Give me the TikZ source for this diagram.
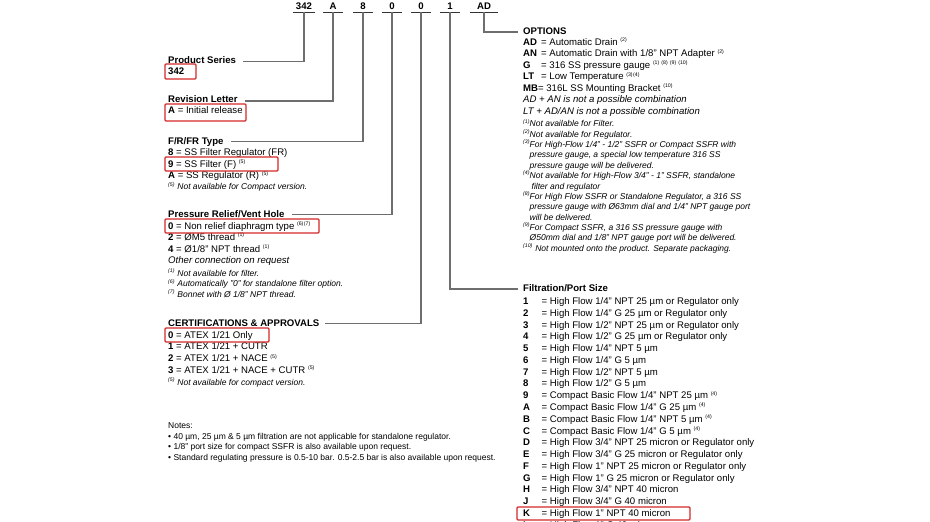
\documentclass[tikz,border=0pt]{standalone}
\usepackage{fontspec}
\setmainfont{Liberation Sans}
\usetikzlibrary{calc}
\definecolor{connc}{RGB}{110,110,110}
\definecolor{hlred}{RGB}{212,40,40}
\newcommand\mainsz{\fontsize{9.6bp}{11.5bp}\selectfont}
\newcommand\fnsz{\fontsize{8.5bp}{10.3bp}\selectfont}
\newcommand\supm[1]{\textsuperscript{\fontsize{5.2bp}{6bp}\selectfont(#1)}}
\newcommand\fnmk[1]{\makebox[6.5bp][l]{\supm{#1}}}
\newcommand\optc[1]{\makebox[18bp][l]{\textbf{#1}}}
\begin{document}
\begin{tikzpicture}[x=1bp,y=-1bp,
  txt/.style={anchor=base west, inner sep=0pt, font=\mainsz},
  head/.style={txt, font=\mainsz\bfseries},
  fn/.style={txt, font=\fnsz\itshape},
  note/.style={txt, font=\fnsz},
  code/.style={anchor=base, inner sep=0pt, minimum width=20bp, font=\mainsz\bfseries},
  conn/.style={draw=connc, line width=1.1bp},
  uline/.style={draw=black!80, line width=0.9bp},
  hl/.style={draw=hlred, line width=1.2bp, rounded corners=1bp}]
\useasboundingbox (0,0) rectangle (930,522);
\fill[white] (0,0) rectangle (930,522);
\clip (0,0) rectangle (930,522);

% ---- code header
\node[code,minimum width=21bp] (k1) at (304,9.5) {342};
\node[code] (k2) at (333,9.5) {A};
\node[code] (k3) at (363,9.5) {8};
\node[code] (k4) at (392,9.5) {0};
\node[code] (k5) at (421,9.5) {0};
\node[code] (k6) at (450,9.5) {1};
\node[code,minimum width=28bp] (k7) at (484,9.5) {AD};
\foreach \n in {k1,k2,k3,k4,k5,k6,k7}
  \draw[uline] ([yshift=-3bp]\n.base west) -- ([yshift=-3bp]\n.base east);

% ---- left column
\node[head] (ps) at (168,63.5) {Product Series};
\node[head] (v342) at (168,74.5) {342};
\node[head] (rl) at (168,102.5) {Revision Letter};
\node[txt] (rA) at (168,113.5) {\textbf{A} = Initial release};

\node[head] (ft) at (168,144.5) {F/R/FR Type};
\node[txt] (t8) at (168,155.5) {\textbf{8} = SS Filter Regulator (FR)};
\node[txt] (t9) at (168,167.5) {\textbf{9} = SS Filter (F) \supm{5}};
\node[txt] (tA) at (168,179) {\textbf{A} = SS Regulator (R) \supm{5}};
\node[fn] (tfn) at (168,190) {\supm{5} Not available for Compact version.};

\node[head] (pr) at (168,217.5) {Pressure Relief/Vent Hole};
\node[txt] (p0) at (168,229.5) {\textbf{0} = Non relief diaphragm type \supm{6}\supm{7}};
\node[txt] (p2) at (168,240.5) {\textbf{2} = ØM5 thread \supm{1}};
\node[txt] (p4) at (168,252.5) {\textbf{4} = Ø1/8" NPT thread \supm{1}};
\node[txt,font=\mainsz\itshape] (po) at (168,264) {Other connection on request};
\node[fn] (pf1) at (168,276.5) {\supm{1} Not available for filter.};
\node[fn] (pf6) at (168,287) {\supm{6} Automatically "0" for standalone filter option.};
\node[fn] (pf7) at (168,297.5) {\supm{7} Bonnet with Ø 1/8" NPT thread.};

\node[head] (ce) at (168,326.5) {CERTIFICATIONS \& APPROVALS};
\node[txt] (c0) at (168,338.5) {\textbf{0} = ATEX 1/21 Only};
\node[txt] (c1) at (168,350) {\textbf{1} = ATEX 1/21 + CUTR};
\node[txt] (c2) at (168,362) {\textbf{2} = ATEX 1/21 + NACE \supm{5}};
\node[txt] (c3) at (168,373.5) {\textbf{3} = ATEX 1/21 + NACE + CUTR \supm{5}};
\node[fn] (cf) at (168,385) {\supm{5} Not available for compact version.};

\node[note] (n0) at (168,428) {Notes:};
\node[note] (n1) at (168,439) {• 40 µm, 25 µm \& 5 µm filtration are not applicable for standalone regulator.};
\node[note] (n2) at (168,449.5) {• 1/8" port size for compact SSFR is also available upon request.};
\node[note] (n3) at (168,460) {• Standard regulating pressure is 0.5-10 bar. 0.5-2.5 bar is also available upon request.};

% ---- options
\node[head] (opt) at (523,34.5) {OPTIONS};
\node[txt] (oAD) at (523,45.5) {\optc{AD}= Automatic Drain \supm{2}};
\node[txt] (oAN) at (523,57) {\optc{AN}= Automatic Drain with 1/8" NPT Adapter \supm{2}};
\node[txt] (oG) at (523,68.5) {\optc{G}= 316 SS pressure gauge \supm{1}\,\supm{8}\,\supm{9}\,\supm{10}};
\node[txt] (oLT) at (523,80) {\optc{LT}= Low Temperature \supm{3}\supm{4}};
\node[txt] (oMB) at (523,91.5) {\textbf{MB}= 316L SS Mounting Bracket \supm{10}};
\node[txt,font=\mainsz\itshape] (oX1) at (523,103) {AD + AN is not a possible combination};
\node[txt,font=\mainsz\itshape] (oX2) at (523,114.5) {LT + AD/AN is not a possible combination};
\node[fn] (of1) at (523,127) {\fnmk{1}Not available for Filter.};
\node[fn] (of2) at (523,137.3) {\fnmk{2}Not available for Regulator.};
\node[fn] (of3a) at (523,147.7) {\fnmk{3}For High-Flow 1/4" - 1/2" SSFR or Compact SSFR with};
\node[fn] (of3b) at (523,158) {\hspace*{6.5bp}pressure gauge, a special low temperature 316 SS};
\node[fn] (of3c) at (523,168.4) {\hspace*{6.5bp}pressure gauge will be delivered.};
\node[fn] (of4a) at (523,178.7) {\fnmk{4}Not available for High-Flow 3/4" - 1" SSFR, standalone};
\node[fn] (of4b) at (523,189.1) {\hspace*{8.5bp}filter and regulator};
\node[fn] (of8a) at (523,199.4) {\fnmk{8}For High Flow SSFR or Standalone Regulator, a 316 SS};
\node[fn] (of8b) at (523,209.8) {\hspace*{6.5bp}pressure gauge with Ø63mm dial and 1/4" NPT gauge port};
\node[fn] (of8c) at (523,220.1) {\hspace*{6.5bp}will be delivered.};
\node[fn] (of9a) at (523,230.5) {\fnmk{9}For Compact SSFR, a 316 SS pressure gauge with};
\node[fn] (of9b) at (523,240.8) {\hspace*{6.5bp}Ø50mm dial and 1/8" NPT gauge port will be delivered.};
\node[fn] (of10) at (523,251.2) {\supm{10} Not mounted onto the product. Separate packaging.};

% ---- filtration / port size
\node[head] (filt) at (523,291.5) {Filtration/Port Size};
\foreach \c/\t [count=\i from 0] in {
  1/{High Flow 1/4" NPT 25 µm or Regulator only},
  2/{High Flow 1/4" G 25 µm or Regulator only},
  3/{High Flow 1/2" NPT 25 µm or Regulator only},
  4/{High Flow 1/2" G 25 µm or Regulator only},
  5/{High Flow 1/4" NPT 5 µm},
  6/{High Flow 1/4" G 5 µm},
  7/{High Flow 1/2" NPT 5 µm},
  8/{High Flow 1/2" G 5 µm},
  9/{Compact Basic Flow 1/4" NPT 25 µm \supm{4}},
  A/{Compact Basic Flow 1/4" G 25 µm \supm{4}},
  B/{Compact Basic Flow 1/4" NPT 5 µm \supm{4}},
  C/{Compact Basic Flow 1/4" G 5 µm \supm{4}},
  D/{High Flow 3/4" NPT 25 micron or Regulator only},
  E/{High Flow 3/4" G 25 micron or Regulator only},
  F/{High Flow 1" NPT 25 micron or Regulator only},
  G/{High Flow 1" G 25 micron or Regulator only},
  H/{High Flow 3/4" NPT 40 micron},
  J/{High Flow 3/4" G 40 micron},
  K/{High Flow 1" NPT 40 micron},
  L/{High Flow 1" G 40 micron}}
  \node[txt] (fr\i) at (523,{304.5+11.78*\i}) {\makebox[18.5bp][l]{\textbf{\c}}= \t};

% ---- connectors
\draw[conn] ([yshift=-3bp]k1.base) |- ([xshift=7bp,yshift=2bp]ps.base east);
\draw[conn] ([yshift=-3bp]k2.base) |- ([xshift=7bp,yshift=1.5bp]rl.base east);
\draw[conn] ([yshift=-3bp]k3.base) |- ([xshift=7bp,yshift=3bp]ft.base east);
\draw[conn] ([yshift=-3bp]k4.base) |- ([xshift=7bp,yshift=3bp]pr.base east);
\draw[conn] ([yshift=-3bp]k5.base) |- ([xshift=5bp,yshift=3bp]ce.base east);
\draw[conn] ([yshift=-3bp]k6.base) |- ([xshift=-5bp,yshift=2.5bp]filt.base west);
\draw[conn] ([yshift=-3bp]k7.base) |- ([xshift=-5bp,yshift=2.5bp]opt.base west);

% ---- highlight boxes
\draw[hl] (165,64) rectangle (196,79);
\draw[hl] (165,104) rectangle (246,121);
\draw[hl] (165,157) rectangle (278,171);
\draw[hl] (165,219) rectangle (319,233);
\draw[hl] (165,328) rectangle (269,342);
\draw[hl] (517,507) rectangle (690,520);
\end{tikzpicture}
\end{document}
